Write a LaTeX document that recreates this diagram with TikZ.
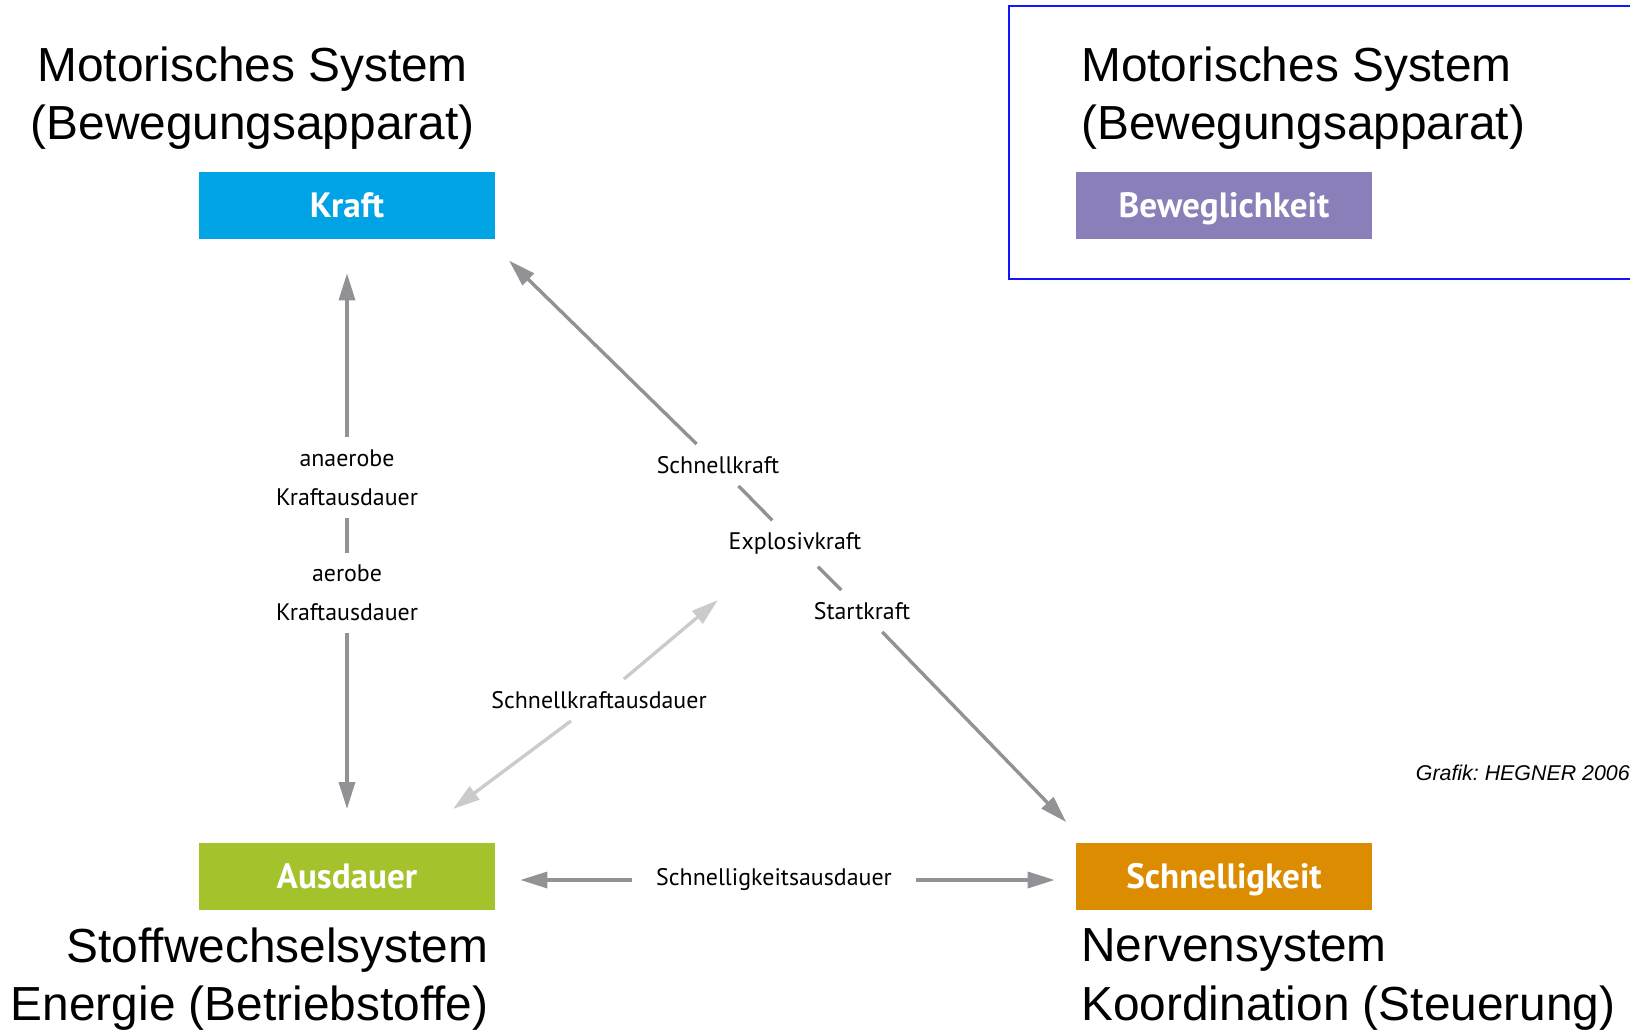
\documentclass[tikz,border=0pt]{standalone}
\usepackage{fontspec}
\setmainfont{PT Sans}
\newfontfamily\arialfont{Liberation Sans}
\usetikzlibrary{arrows.meta}

\definecolor{kraftblue}{RGB}{0,163,228}
\definecolor{bewpurple}{RGB}{138,127,184}
\definecolor{ausgreen}{RGB}{164,194,43}
\definecolor{schnorange}{RGB}{220,140,0}
\definecolor{arrgray}{RGB}{145,146,150}
\definecolor{palegray}{RGB}{202,203,205}
\definecolor{framblue}{RGB}{20,20,255}

\begin{document}
\begin{tikzpicture}[x=0.025cm, y=-0.025cm,
        box/.style = {fill=#1, text=white, inner sep=0pt, minimum width=7.4cm, minimum height=1.675cm, text height=17.5pt, text depth=0pt, font=\fontsize{25}{30}\selectfont\bfseries},
        big/.style = {font=\arialfont\fontsize{34}{41.3}\selectfont, inner sep=0pt},
        lab/.style = {font=\fontsize{17}{27.7}\selectfont, align=center, inner xsep=0.3cm, inner ysep=0.3cm},
        con/.style = {draw=arrgray, line width=2.4pt},
        tip/.style = {-{Triangle[length=0.675cm, width=0.4cm]}}]
    \useasboundingbox (0,0) rectangle (1630,1031);

    % the four boxes
    \node[box=kraftblue] (kraft) at (347,205.5) {Kraft};
    \node[box=bewpurple] (beweg) at (1224,205.5) {Beweglichkeit};
    \node[box=ausgreen] (ausdauer) at (347,876) {Ausdauer};
    \node[box=schnorange] (schnell) at (1224,876) {Schnelligkeit};

    % systems
    \node[big, align=center] (motorl) at (252.6,98.5) {Motorisches System\\(Bewegungsapparat)};
    \node[big, align=left, anchor=west] (motorr) at (1081,98.5) {Motorisches System\\(Bewegungsapparat)};
    \node[big, align=right, anchor=east] (stoff) at (488.6,979.5) {Stoffwechselsystem\\Energie (Betriebstoffe)};
    \node[big, align=left, anchor=west] (nerv) at (1081,979.5) {Nervensystem\\Koordination (Steuerung)};
    \node[font=\arialfont\itshape\fontsize{15.2}{18}\selectfont, anchor=east, inner sep=0pt] (credit) at (1630,773) {Grafik:\ HEGNER 2006};

    \draw[framblue, line width=1.4pt] (1632,6) -- (1009,6) -- (1009,278.6) -- (1632,278.6);

    % labels
    \node[lab] (ana) at (347,477.5) {anaerobe\\Kraftausdauer};
    \node[lab] (aer) at (347,593) {aerobe\\Kraftausdauer};
    \node[lab] (snk) at (718,465) {Schnellkraft};
    \node[lab] (exp) at (795,543.5) {Explosivkraft};
    \node[lab] (stk) at (862,611) {Startkraft};
    \node[lab] (ska) at (599,700) {Schnellkraftausdauer};
    \node[lab, inner xsep=0.6cm] (sga) at (774,880) {Schnelligkeitsausdauer};
    \coordinate (skalo) at (453,809);
    \coordinate (skahi) at (718,600);

    % connectors
    \draw[con, tip, shorten >=0.85cm] (ana) -- (kraft);
    \draw[con] (ana) -- (aer);
    \draw[con, tip, shorten >=0.83cm] (aer) -- (ausdauer);
    \draw[con, tip, shorten >=0.76cm] (snk) -- ([xshift=-0.2cm]kraft.south east);
    \draw[con] (snk) -- (exp);
    \draw[con] (exp) -- (stk);
    \draw[con, tip, shorten >=0.7cm] (stk) -- ([xshift=0.25cm]schnell.north west);
    \draw[con, draw=palegray, tip] (ska) -- (skalo);
    \draw[con, draw=palegray, tip] (ska) -- (skahi);
    \draw[con, tip, shorten >=0.625cm] (sga) -- (sga -| ausdauer.east);
    \draw[con, tip, shorten >=0.525cm] (sga) -- (sga -| schnell.west);
\end{tikzpicture}
\end{document}
